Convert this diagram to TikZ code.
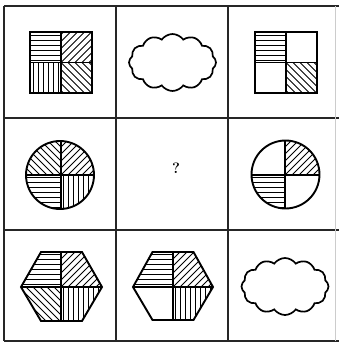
\documentclass[tikz,border=0pt]{standalone}
\usetikzlibrary{shapes.symbols}
\tikzset{
  grid/.style={line width=1.7pt, draw=black!85},
  outline/.style={line width=1.9pt, line join=miter},
  hatch/.style={line width=0.8pt},
  cloudbox/.style={cloud, cloud puffs=12, cloud puff arc=110, aspect=1.5, draw, line width=1.7pt, inner sep=0pt, minimum width=87pt, minimum height=57pt},
}
% horizontal lines around centre (#1,#2)
\newcommand\HL[2]{\foreach \t in {-42.5,-37.5,...,45} \draw[hatch] (#1-50,#2+\t) -- (#1+50,#2+\t);}
% vertical lines
\newcommand\VL[2]{\foreach \t in {-42.5,-37.5,...,45} \draw[hatch] (#1+\t,#2-50) -- (#1+\t,#2+50);}
% slash lines "/"
\newcommand\SL[2]{\foreach \t in {-84,-77,...,84} \draw[hatch] (#1+\t-50,#2+50) -- (#1+\t+50,#2-50);}
% backslash lines "\"
\newcommand\BL[2]{\foreach \t in {-84,-77,...,84} \draw[hatch] (#1+\t-50,#2-50) -- (#1+\t+50,#2+50);}
\begin{document}
\begin{tikzpicture}[x=1pt,y=-1pt]
\useasboundingbox (0,0) rectangle (339,343);
\fill[white] (0,0) rectangle (339,343);
% ---------- grid ----------
\draw[grid] (4,6) -- (339,6);
\draw[grid] (4,341) -- (339,341);
\draw[grid] (4,118) -- (339,118);
\draw[grid] (4,230) -- (339,230);
\draw[grid] (4,6) -- (4,341);
\draw[grid] (116,6) -- (116,341);
\draw[grid] (228,6) -- (228,341);
\draw[line width=0.6pt, black!20] (335,6) -- (335,341);

% ---------- row 1, col 1: square ----------
\begin{scope}\clip (30,32) rectangle (61,62.5); \HL{61}{62.5} \end{scope}
\begin{scope}\clip (61,32) rectangle (92,62.5); \SL{61}{62.5} \end{scope}
\begin{scope}\clip (30,62.5) rectangle (61,93); \VL{61}{62.5} \end{scope}
\begin{scope}\clip (61,62.5) rectangle (92,93); \BL{61}{62.5} \end{scope}
\draw[outline] (30,32) rectangle (92,93);
\draw[outline] (61,32) -- (61,93);
\draw[outline] (30,62.5) -- (92,62.5);

% ---------- row 1, col 2: cloud ----------
\node[cloudbox] (cloudA) at (172.5,62.5) {};

% ---------- row 1, col 3: square ----------
\begin{scope}\clip (255,32) rectangle (286,62.5); \HL{286}{62.5} \end{scope}
\begin{scope}\clip (286,62.5) rectangle (317,93); \BL{286}{62.5} \end{scope}
\draw[outline] (255,32) rectangle (317,93);
\draw[outline] (286,32) -- (286,93);
\draw[outline] (255,62.5) -- (317,62.5);

% ---------- row 2, col 1: circle ----------
\begin{scope}\clip (60,175) circle (34); \clip (20,135) rectangle (61,175); \BL{61}{175} \end{scope}
\begin{scope}\clip (60,175) circle (34); \clip (61,135) rectangle (100,175); \SL{61}{175} \end{scope}
\begin{scope}\clip (60,175) circle (34); \clip (20,175) rectangle (61,215); \HL{61}{175} \end{scope}
\begin{scope}\clip (60,175) circle (34); \clip (61,175) rectangle (100,215); \VL{61}{175} \end{scope}
\draw[outline] (60,175) circle (34);
\draw[outline] (61,141) -- (61,209);
\draw[outline] (26,175) -- (94,175);

% ---------- row 2, col 2: question mark ----------
\node[font=\fontsize{15}{15}\selectfont\bfseries] (qm) at (176,168.5) {?};

% ---------- row 2, col 3: circle ----------
\begin{scope}\clip (285.5,174.5) circle (34); \clip (285,130) rectangle (325,175); \SL{285}{175} \end{scope}
\begin{scope}\clip (285.5,174.5) circle (34); \clip (245,175) rectangle (285,215); \HL{285}{175} \end{scope}
\draw[outline] (285.5,174.5) circle (34);
\draw[outline] (285,140.5) -- (285,208.5);
\draw[outline] (251.5,175) -- (319.5,175);

% ---------- row 3, col 1: hexagon ----------
\begin{scope}
  \clip (41,252) -- (82,252) -- (102,287) -- (82,321) -- (41,321) -- (21,287) -- cycle;
  \begin{scope}\clip (15,245) rectangle (61,287); \HL{61}{287} \end{scope}
  \begin{scope}\clip (61,245) rectangle (110,287); \SL{61}{287} \end{scope}
  \begin{scope}\clip (15,287) rectangle (61,330); \BL{61}{287} \end{scope}
  \begin{scope}\clip (61,287) rectangle (110,330); \VL{61}{287} \end{scope}
\end{scope}
\draw[outline] (41,252) -- (82,252) -- (102,287) -- (82,321) -- (41,321) -- (21,287) -- cycle;
\draw[outline] (61,252) -- (61,321);
\draw[outline] (21,287) -- (102,287);

% ---------- row 3, col 2: hexagon ----------
\begin{scope}
  \clip (152.5,252) -- (193.5,252) -- (213,287) -- (193.5,320) -- (152.5,320) -- (133,287) -- cycle;
  \begin{scope}\clip (125,245) rectangle (173,287); \HL{173}{287} \end{scope}
  \begin{scope}\clip (173,245) rectangle (220,287); \SL{173}{287} \end{scope}
  \begin{scope}\clip (173,287) rectangle (220,330); \VL{173}{287} \end{scope}
\end{scope}
\draw[outline] (152.5,252) -- (193.5,252) -- (213,287) -- (193.5,320) -- (152.5,320) -- (133,287) -- cycle;
\draw[outline] (173,252) -- (173,320);
\draw[outline] (133,287) -- (213,287);

% ---------- row 3, col 3: cloud ----------
\node[cloudbox] (cloudB) at (285,286.5) {};
\end{tikzpicture}
\end{document}
